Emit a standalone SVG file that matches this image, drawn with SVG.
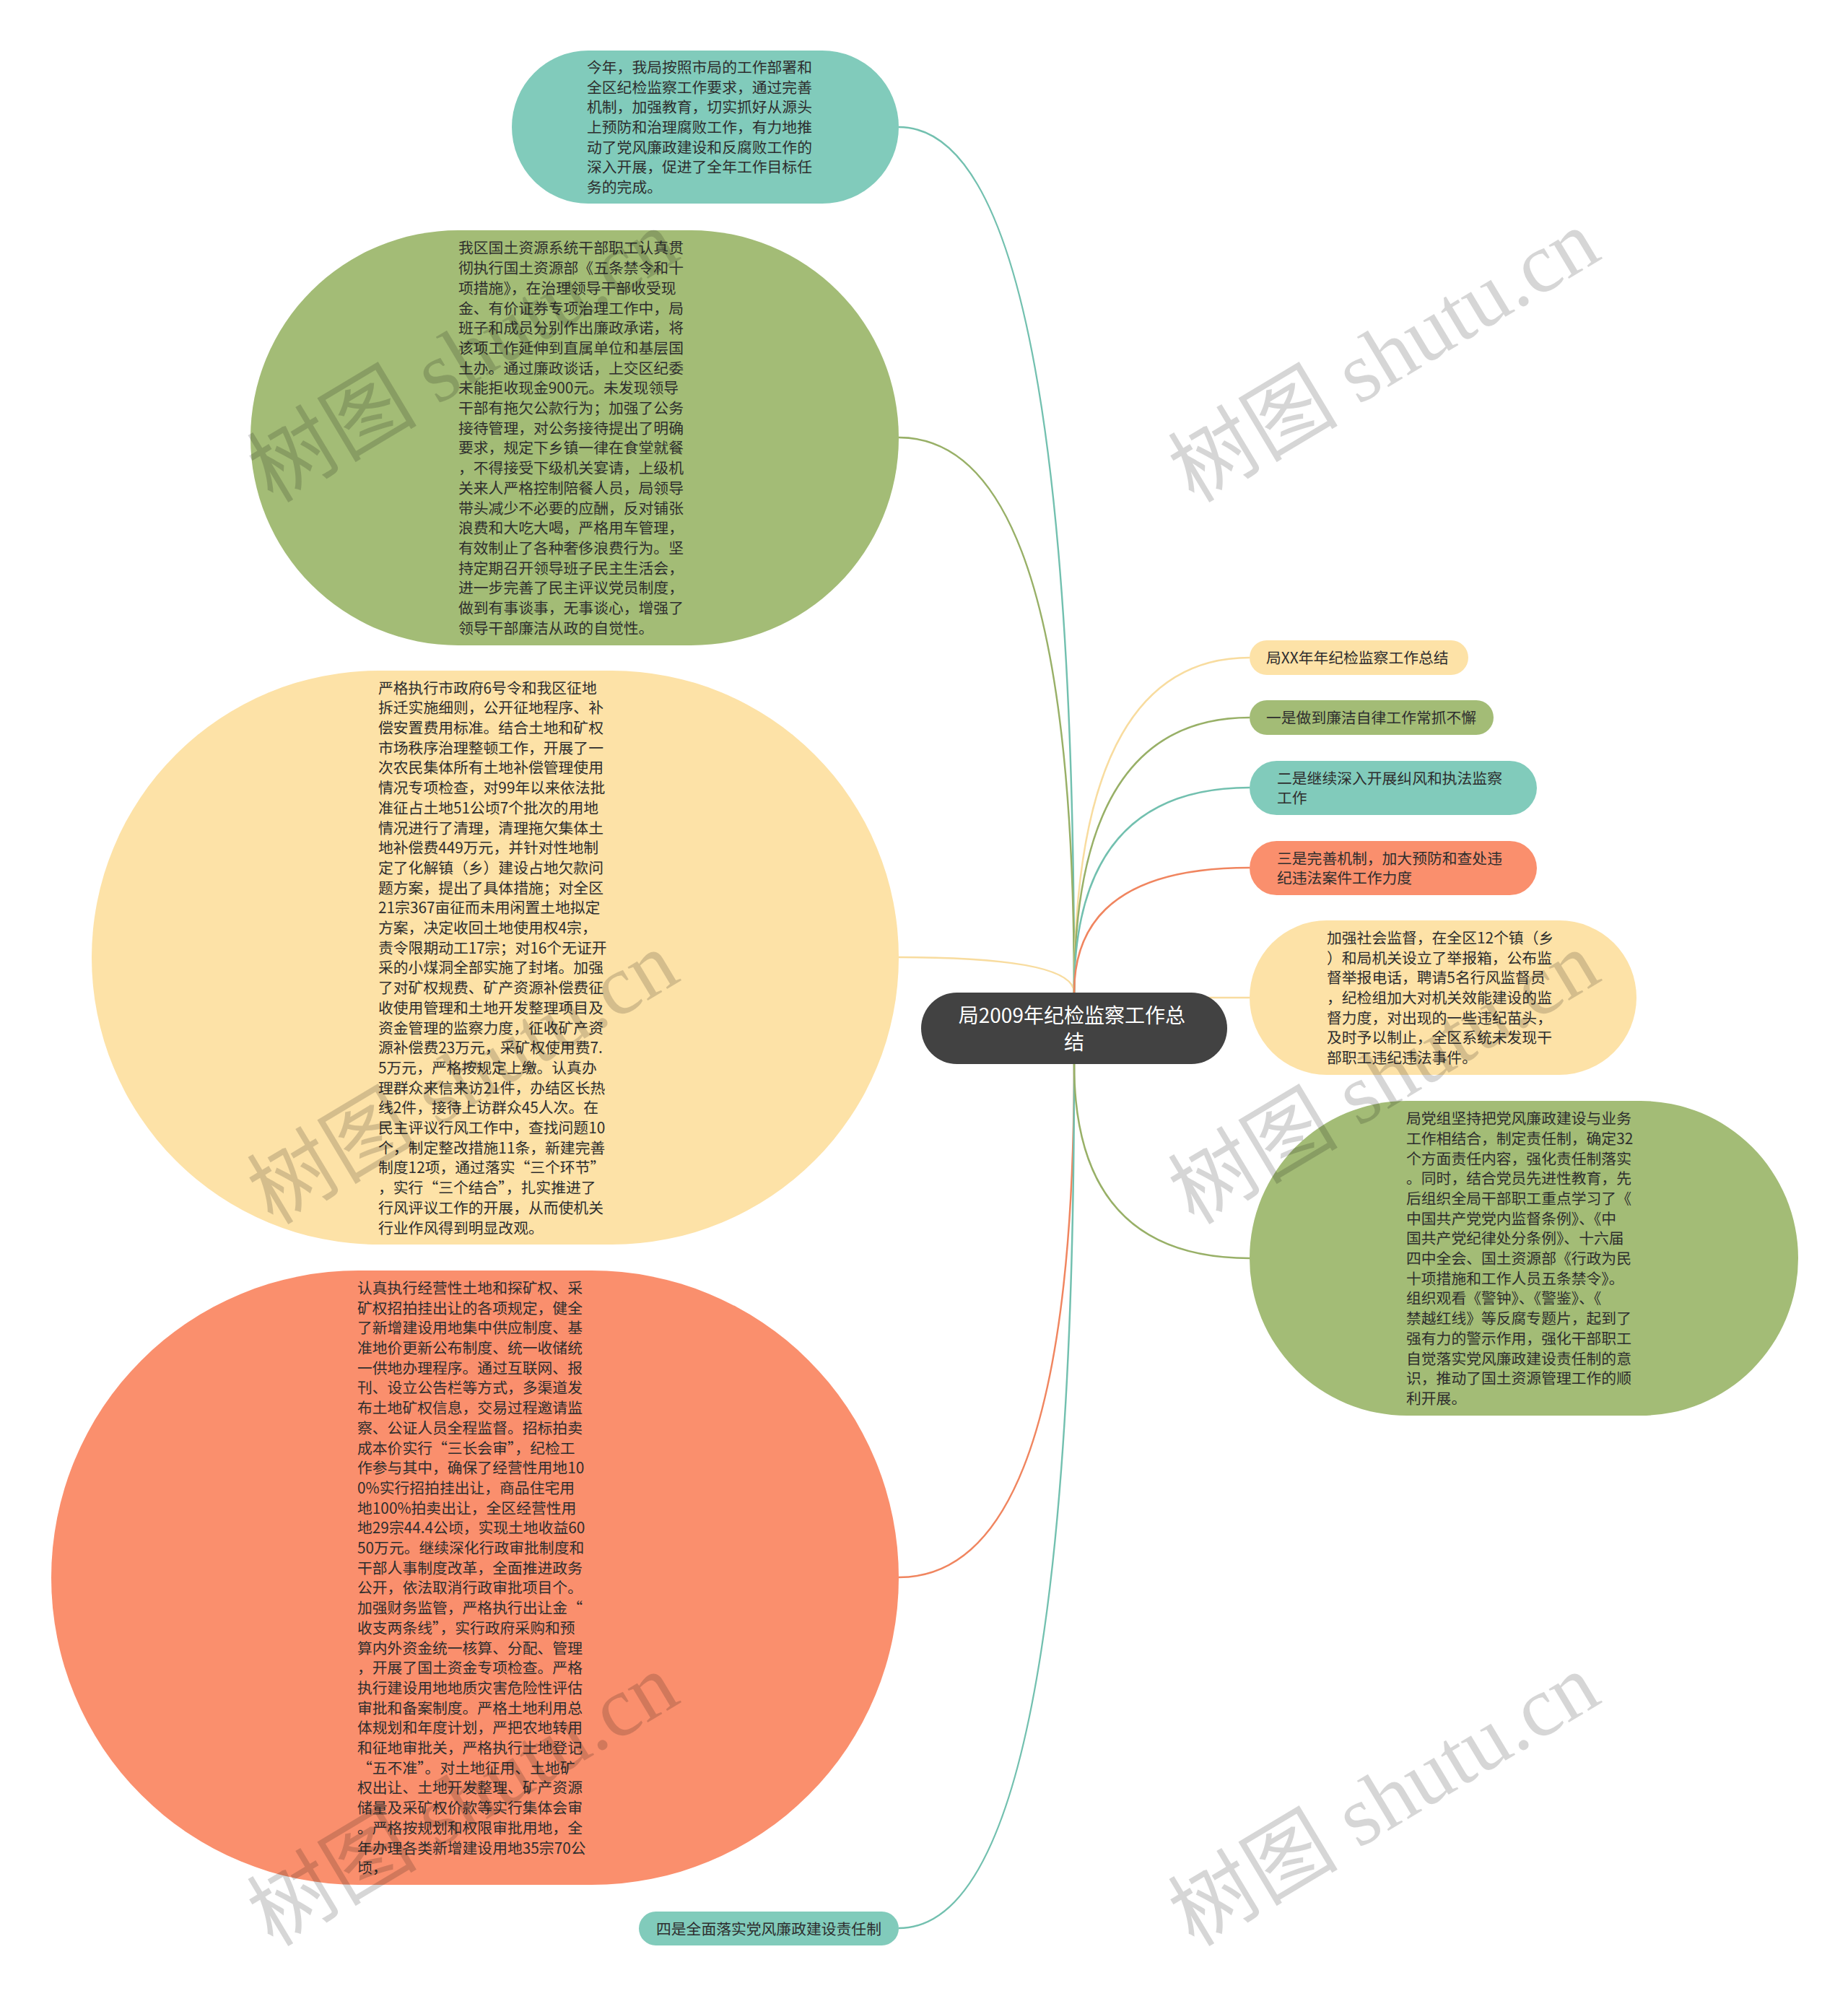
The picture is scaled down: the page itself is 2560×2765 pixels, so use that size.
<svg xmlns="http://www.w3.org/2000/svg" width="2560" height="2765" viewBox="0 0 2560 2765">
<style>
.t { font-family: "Noto Sans CJK SC", "Noto Sans", sans-serif; font-size: 20.8px; fill: #2e2e2e; }
.ct { font-family: "Noto Sans CJK SC", "Noto Sans", sans-serif; font-size: 28px; fill: #ffffff; text-anchor: middle; }
.c { fill: none; stroke-width: 2.5; }
.teal { fill: #81cbbb; }
.green { fill: #a3bc76; }
.yellow { fill: #fde2a7; }
.salmon { fill: #fa8f6d; }
.lteal { stroke: #72c0af; }
.lgreen { stroke: #98b067; }
.lyellow { stroke: #f8dc9f; }
.lsalmon { stroke: #f0855f; }
.wm { font-family: "Liberation Serif", "Noto Sans CJK SC", serif; font-size: 118px; fill: #000000; fill-opacity: 0.16; }
</style>
<rect x="0" y="0" width="2560" height="2765" fill="#ffffff"/>
<g id="connectors">
<path class="c lteal" d="M 1488 1375 Q 1488 176 1245 176"/>
<path class="c lgreen" d="M 1488 1375 Q 1488 606 1245 606"/>
<path class="c lyellow" d="M 1488 1375 Q 1488 1326 1245 1326"/>
<path class="c lsalmon" d="M 1488 1474 Q 1488 2185 1245 2185"/>
<path class="c lteal" d="M 1488 1474 Q 1488 2671 1245 2671"/>
<path class="c lyellow" d="M 1488 1375 Q 1488 911 1731 911"/>
<path class="c lgreen" d="M 1488 1375 Q 1488 994 1731 994"/>
<path class="c lteal" d="M 1488 1375 Q 1488 1091 1731 1091"/>
<path class="c lsalmon" d="M 1488 1375 Q 1488 1202 1731 1202"/>
<path class="c lyellow" d="M 1488 1382 Q 1600 1382 1731 1382"/>
<path class="c lgreen" d="M 1488 1474 Q 1488 1743 1731 1743"/>
</g>
<g id="node-intro">
<rect class="teal" x="709" y="70" width="536" height="212" rx="106"/>
<text class="t">
<tspan x="813" y="100.9">今年，我局按照市局的工作部署和</tspan>
<tspan x="813" y="128.6">全区纪检监察工作要求，通过完善</tspan>
<tspan x="813" y="156.3">机制，加强教育，切实抓好从源头</tspan>
<tspan x="813" y="184">上预防和治理腐败工作，有力地推</tspan>
<tspan x="813" y="211.7">动了党风廉政建设和反腐败工作的</tspan>
<tspan x="813" y="239.4">深入开展，促进了全年工作目标任</tspan>
<tspan x="813" y="267.1">务的完成。</tspan>
</text>
</g>
<g id="node-lianjie">
<rect class="green" x="347" y="319" width="898" height="575" rx="287.5"/>
<text class="t">
<tspan x="635" y="351.4">我区国土资源系统干部职工认真贯</tspan>
<tspan x="635" y="379.1">彻执行国土资源部《五条禁令和十</tspan>
<tspan x="635" y="406.8">项措施》，在治理领导干部收受现</tspan>
<tspan x="635" y="434.5">金、有价证券专项治理工作中，局</tspan>
<tspan x="635" y="462.2">班子和成员分别作出廉政承诺，将</tspan>
<tspan x="635" y="489.9">该项工作延伸到直属单位和基层国</tspan>
<tspan x="635" y="517.6">土办。通过廉政谈话，上交区纪委</tspan>
<tspan x="635" y="545.3">未能拒收现金900元。未发现领导</tspan>
<tspan x="635" y="573">干部有拖欠公款行为；加强了公务</tspan>
<tspan x="635" y="600.7">接待管理，对公务接待提出了明确</tspan>
<tspan x="635" y="628.4">要求，规定下乡镇一律在食堂就餐</tspan>
<tspan x="635" y="656.1">，不得接受下级机关宴请，上级机</tspan>
<tspan x="635" y="683.8">关来人严格控制陪餐人员，局领导</tspan>
<tspan x="635" y="711.5">带头减少不必要的应酬，反对铺张</tspan>
<tspan x="635" y="739.2">浪费和大吃大喝，严格用车管理，</tspan>
<tspan x="635" y="766.9">有效制止了各种奢侈浪费行为。坚</tspan>
<tspan x="635" y="794.6">持定期召开领导班子民主生活会，</tspan>
<tspan x="635" y="822.3">进一步完善了民主评议党员制度，</tspan>
<tspan x="635" y="850">做到有事谈事，无事谈心，增强了</tspan>
<tspan x="635" y="877.7">领导干部廉洁从政的自觉性。</tspan>
</text>
</g>
<g id="node-jiufeng">
<rect class="yellow" x="127" y="929" width="1118" height="795" rx="397.5"/>
<text class="t">
<tspan x="524" y="960.6">严格执行市政府6号令和我区征地</tspan>
<tspan x="524" y="988.3">拆迁实施细则，公开征地程序、补</tspan>
<tspan x="524" y="1016">偿安置费用标准。结合土地和矿权</tspan>
<tspan x="524" y="1043.7">市场秩序治理整顿工作，开展了一</tspan>
<tspan x="524" y="1071.4">次农民集体所有土地补偿管理使用</tspan>
<tspan x="524" y="1099.1">情况专项检查，对99年以来依法批</tspan>
<tspan x="524" y="1126.8">准征占土地51公顷7个批次的用地</tspan>
<tspan x="524" y="1154.5">情况进行了清理，清理拖欠集体土</tspan>
<tspan x="524" y="1182.2">地补偿费449万元，并针对性地制</tspan>
<tspan x="524" y="1209.9">定了化解镇（乡）建设占地欠款问</tspan>
<tspan x="524" y="1237.6">题方案，提出了具体措施；对全区</tspan>
<tspan x="524" y="1265.3">21宗367亩征而未用闲置土地拟定</tspan>
<tspan x="524" y="1293">方案，决定收回土地使用权4宗，</tspan>
<tspan x="524" y="1320.7">责令限期动工17宗；对16个无证开</tspan>
<tspan x="524" y="1348.4">采的小煤洞全部实施了封堵。加强</tspan>
<tspan x="524" y="1376.1">了对矿权规费、矿产资源补偿费征</tspan>
<tspan x="524" y="1403.8">收使用管理和土地开发整理项目及</tspan>
<tspan x="524" y="1431.5">资金管理的监察力度，征收矿产资</tspan>
<tspan x="524" y="1459.2">源补偿费23万元，采矿权使用费7.</tspan>
<tspan x="524" y="1486.9">5万元，严格按规定上缴。认真办</tspan>
<tspan x="524" y="1514.6">理群众来信来访21件，办结区长热</tspan>
<tspan x="524" y="1542.3">线2件，接待上访群众45人次。在</tspan>
<tspan x="524" y="1570">民主评议行风工作中，查找问题10</tspan>
<tspan x="524" y="1597.7">个，制定整改措施11条，新建完善</tspan>
<tspan x="524" y="1625.4">制度12项，通过落实“三个环节”</tspan>
<tspan x="524" y="1653.1">，实行“三个结合”，扎实推进了</tspan>
<tspan x="524" y="1680.8">行风评议工作的开展，从而使机关</tspan>
<tspan x="524" y="1708.5">行业作风得到明显改观。</tspan>
</text>
</g>
<g id="node-jizhi">
<rect class="salmon" x="71" y="1760" width="1174" height="851" rx="425.5"/>
<text class="t">
<tspan x="495" y="1791.9">认真执行经营性土地和探矿权、采</tspan>
<tspan x="495" y="1819.6">矿权招拍挂出让的各项规定，健全</tspan>
<tspan x="495" y="1847.3">了新增建设用地集中供应制度、基</tspan>
<tspan x="495" y="1875">准地价更新公布制度、统一收储统</tspan>
<tspan x="495" y="1902.7">一供地办理程序。通过互联网、报</tspan>
<tspan x="495" y="1930.4">刊、设立公告栏等方式，多渠道发</tspan>
<tspan x="495" y="1958.1">布土地矿权信息，交易过程邀请监</tspan>
<tspan x="495" y="1985.8">察、公证人员全程监督。招标拍卖</tspan>
<tspan x="495" y="2013.5">成本价实行“三长会审”，纪检工</tspan>
<tspan x="495" y="2041.2">作参与其中，确保了经营性用地10</tspan>
<tspan x="495" y="2068.9">0%实行招拍挂出让，商品住宅用</tspan>
<tspan x="495" y="2096.6">地100%拍卖出让，全区经营性用</tspan>
<tspan x="495" y="2124.3">地29宗44.4公顷，实现土地收益60</tspan>
<tspan x="495" y="2152">50万元。继续深化行政审批制度和</tspan>
<tspan x="495" y="2179.7">干部人事制度改革，全面推进政务</tspan>
<tspan x="495" y="2207.4">公开，依法取消行政审批项目个。</tspan>
<tspan x="495" y="2235.1">加强财务监管，严格执行出让金“</tspan>
<tspan x="495" y="2262.8">收支两条线”，实行政府采购和预</tspan>
<tspan x="495" y="2290.5">算内外资金统一核算、分配、管理</tspan>
<tspan x="495" y="2318.2">，开展了国土资金专项检查。严格</tspan>
<tspan x="495" y="2345.9">执行建设用地地质灾害危险性评估</tspan>
<tspan x="495" y="2373.6">审批和备案制度。严格土地利用总</tspan>
<tspan x="495" y="2401.3">体规划和年度计划，严把农地转用</tspan>
<tspan x="495" y="2429">和征地审批关，严格执行土地登记</tspan>
<tspan x="495" y="2456.7">“五不准”。对土地征用、土地矿</tspan>
<tspan x="495" y="2484.4">权出让、土地开发整理、矿产资源</tspan>
<tspan x="495" y="2512.1">储量及采矿权价款等实行集体会审</tspan>
<tspan x="495" y="2539.8">。严格按规划和权限审批用地，全</tspan>
<tspan x="495" y="2567.5">年办理各类新增建设用地35宗70公</tspan>
<tspan x="495" y="2595.2">顷，</tspan>
</text>
</g>
<g id="node-four">
<rect class="teal" x="885" y="2648" width="360" height="47" rx="23.5"/>
<text class="t"><tspan x="909" y="2679.5">四是全面落实党风廉政建设责任制</tspan></text>
</g>
<g id="node-title">
<rect class="yellow" x="1731" y="887" width="303" height="48" rx="24"/>
<text class="t"><tspan x="1754" y="919">局XX年年纪检监察工作总结</tspan></text>
</g>
<g id="node-one">
<rect class="green" x="1731" y="970" width="338" height="48" rx="24"/>
<text class="t"><tspan x="1754" y="1002">一是做到廉洁自律工作常抓不懈</tspan></text>
</g>
<g id="node-two">
<rect class="teal" x="1731" y="1054" width="398" height="75" rx="37.5"/>
<text class="t">
<tspan x="1769" y="1085.7">二是继续深入开展纠风和执法监察</tspan>
<tspan x="1769" y="1113.3">工作</tspan>
</text>
</g>
<g id="node-three">
<rect class="salmon" x="1731" y="1165" width="398" height="75" rx="37.5"/>
<text class="t">
<tspan x="1769" y="1196.7">三是完善机制，加大预防和查处违</tspan>
<tspan x="1769" y="1224.3">纪违法案件工作力度</tspan>
</text>
</g>
<g id="node-jiandu">
<rect class="yellow" x="1731" y="1275" width="536" height="214" rx="107"/>
<text class="t">
<tspan x="1838" y="1306.9">加强社会监督，在全区12个镇（乡</tspan>
<tspan x="1838" y="1334.6">）和局机关设立了举报箱，公布监</tspan>
<tspan x="1838" y="1362.3">督举报电话，聘请5名行风监督员</tspan>
<tspan x="1838" y="1390">，纪检组加大对机关效能建设的监</tspan>
<tspan x="1838" y="1417.7">督力度，对出现的一些违纪苗头，</tspan>
<tspan x="1838" y="1445.4">及时予以制止，全区系统未发现干</tspan>
<tspan x="1838" y="1473.1">部职工违纪违法事件。</tspan>
</text>
</g>
<g id="node-zeren">
<rect class="green" x="1731" y="1525" width="760" height="436" rx="218"/>
<text class="t">
<tspan x="1948" y="1557.1">局党组坚持把党风廉政建设与业务</tspan>
<tspan x="1948" y="1584.8">工作相结合，制定责任制，确定32</tspan>
<tspan x="1948" y="1612.5">个方面责任内容，强化责任制落实</tspan>
<tspan x="1948" y="1640.2">。同时，结合党员先进性教育，先</tspan>
<tspan x="1948" y="1667.9">后组织全局干部职工重点学习了《</tspan>
<tspan x="1948" y="1695.6">中国共产党党内监督条例》、《中</tspan>
<tspan x="1948" y="1723.3">国共产党纪律处分条例》、十六届</tspan>
<tspan x="1948" y="1751">四中全会、国土资源部《行政为民</tspan>
<tspan x="1948" y="1778.7">十项措施和工作人员五条禁令》。</tspan>
<tspan x="1948" y="1806.4">组织观看《警钟》、《警鉴》、《</tspan>
<tspan x="1948" y="1834.1">禁越红线》等反腐专题片，起到了</tspan>
<tspan x="1948" y="1861.8">强有力的警示作用，强化干部职工</tspan>
<tspan x="1948" y="1889.5">自觉落实党风廉政建设责任制的意</tspan>
<tspan x="1948" y="1917.2">识，推动了国土资源管理工作的顺</tspan>
<tspan x="1948" y="1944.9">利开展。</tspan>
</text>
</g>
<g id="node-center">
<rect x="1276" y="1375" width="424" height="99" rx="49.5" fill="#424242"/>
<text class="ct">
<tspan x="1488" y="1416.6">局2009年纪检监察工作总</tspan>
<tspan x="1488" y="1453.6">结</tspan>
</text>
</g>
<g id="watermarks">
<text class="wm" transform="translate(378 698) rotate(-31)">树图 shutu.cn</text>
<text class="wm" transform="translate(1654 698) rotate(-31)">树图 shutu.cn</text>
<text class="wm" transform="translate(378 1698) rotate(-31)">树图 shutu.cn</text>
<text class="wm" transform="translate(1654 1698) rotate(-31)">树图 shutu.cn</text>
<text class="wm" transform="translate(378 2698) rotate(-31)">树图 shutu.cn</text>
<text class="wm" transform="translate(1654 2698) rotate(-31)">树图 shutu.cn</text>
</g>
</svg>
